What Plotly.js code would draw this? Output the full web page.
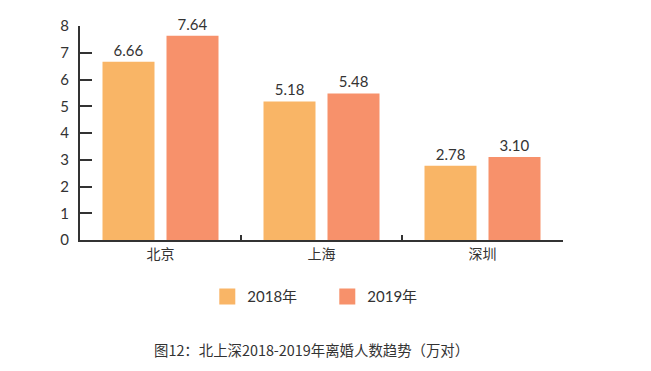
<!DOCTYPE html>
<html><head><meta charset="utf-8">
<script src="https://cdn.plot.ly/plotly-3.0.1.min.js"></script>
<style>html,body{margin:0;padding:0;background:#fff}#c{width:651px;height:371px}</style>
</head><body><div id="c"></div>
<script>
const categories = ['北京', '上海', '深圳'];
const series2018 = [6.66, 5.18, 2.78];
const series2019 = [7.64, 5.48, 3.10];
const seriesNames = ['2018年', '2019年'];
const yTicks = [0, 1, 2, 3, 4, 5, 6, 7, 8];
const chartTitle = '图12：北上深2018-2019年离婚人数趋势（万对）';

const colors = ['#F9B566', '#F7916B'];
const font = 'Lato, "Noto Sans CJK SC", sans-serif';

function barTrace(vals, name, color) {
  return {
    type: 'bar', x: categories, y: vals, name: name,
    marker: {color: color}, showlegend: false,
    text: vals.map(v => v.toFixed(2)), textposition: 'outside',
    textfont: {size: 15, color: '#333', family: font},
    cliponaxis: false, hoverinfo: 'skip'
  };
}
function legendTrace(name, color) {
  return {
    type: 'scatter', mode: 'markers', x: [null], y: [null], name: name,
    marker: {symbol: 'square', size: 18, color: color}, showlegend: true
  };
}

const data = [
  barTrace(series2018, seriesNames[0], colors[0]),
  barTrace(series2019, seriesNames[1], colors[1]),
  legendTrace(seriesNames[0], colors[0]),
  legendTrace(seriesNames[1], colors[1])
];

const layout = {
  width: 651, height: 371,
  margin: {l: 80, r: 88, t: 26, b: 131},
  paper_bgcolor: '#fff', plot_bgcolor: '#fff',
  font: {family: font, color: '#333', size: 14},
  barmode: 'group', bargap: 0.205, bargroupgap: 0.1875,
  xaxis: {
    type: 'category', showgrid: false, zeroline: false,
    showline: true, linecolor: '#333', linewidth: 2,
    ticks: 'inside', tickson: 'boundaries', ticklen: 5, tickwidth: 2, tickcolor: '#333',
    tickfont: {size: 14, color: '#333'}, fixedrange: true
  },
  yaxis: {
    range: [0, 8], tickvals: yTicks, showgrid: false, zeroline: false,
    showline: true, linecolor: '#333', linewidth: 2,
    ticks: 'inside', ticklen: 12, tickwidth: 2, tickcolor: '#333',
    tickfont: {size: 15, color: '#333'}, ticklabelstandoff: 6, fixedrange: true
  },
  showlegend: true,
  legend: {
    orientation: 'h', x: 0.512, xanchor: 'center', y: -0.265, yanchor: 'middle',
    font: {size: 15, color: '#333'}, itemwidth: 30, traceorder: 'normal',
    entrywidth: 75, entrywidthmode: 'pixels'
  },
  annotations: [{
    text: chartTitle, xref: 'paper', yref: 'paper', x: 0.48, y: -0.51,
    xanchor: 'center', yanchor: 'middle', showarrow: false,
    font: {size: 14.4, color: '#333', family: '"Noto Sans CJK SC", sans-serif'}
  }]
};

Plotly.newPlot('c', data, layout, {displayModeBar: false, staticPlot: true});
</script></body></html>
